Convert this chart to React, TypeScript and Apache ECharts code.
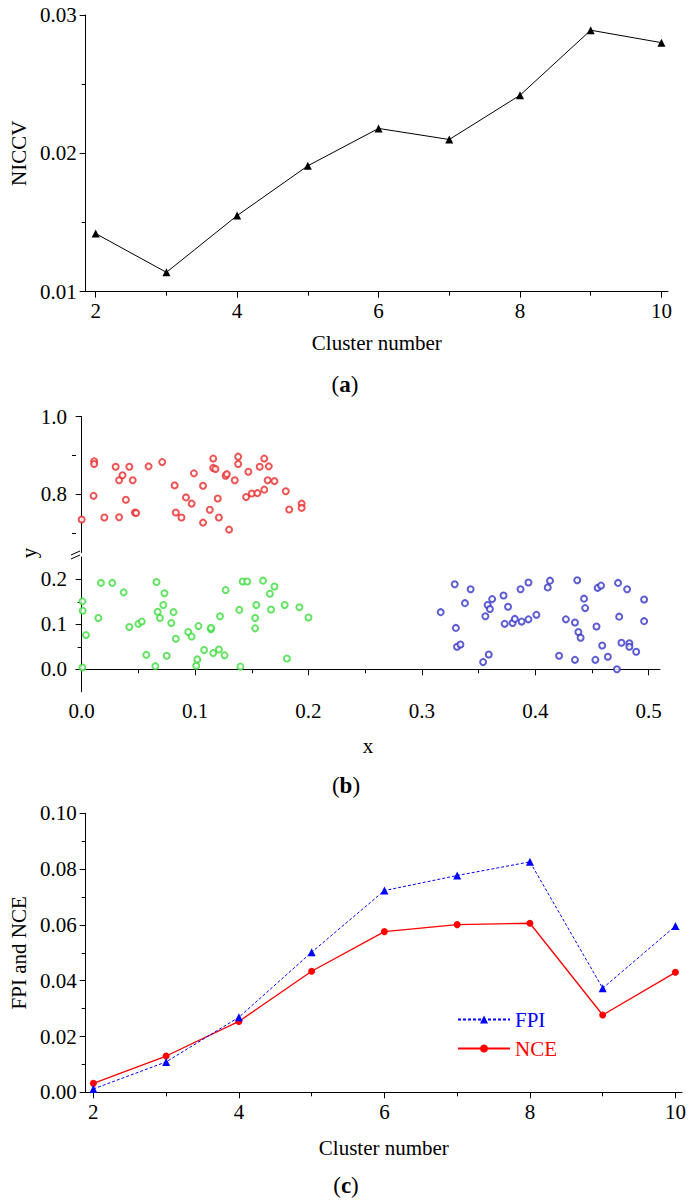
import React, { useEffect, useRef } from "react";
import * as echarts from "echarts";

const FONT = "'Liberation Serif', 'Times New Roman', serif";

// Panel (a)
const clusterNumbers = [2, 3, 4, 5, 6, 7, 8, 9, 10];
const niccv = [0.0142, 0.0114, 0.0155, 0.0191, 0.0218, 0.021, 0.0242, 0.0289, 0.028];
const clusterTickLabels = [2, 4, 6, 8, 10];
const clusterMinorTicks = [3, 5, 7, 9];

// Panel (b)
const redX = [0.0, 0.0105, 0.011, 0.011, 0.02, 0.03, 0.033, 0.033, 0.036, 0.039, 0.042, 0.045, 0.047, 0.048, 0.059, 0.071, 0.082, 0.083, 0.088, 0.092, 0.097, 0.099, 0.107, 0.107, 0.113, 0.116, 0.116, 0.118, 0.12, 0.121, 0.127, 0.128, 0.13, 0.135, 0.138, 0.138, 0.145, 0.147, 0.15, 0.155, 0.157, 0.161, 0.161, 0.164, 0.165, 0.17, 0.18, 0.183, 0.194, 0.194];
const redY = [0.735, 0.796, 0.885, 0.878, 0.74, 0.871, 0.741, 0.836, 0.849, 0.786, 0.871, 0.836, 0.753, 0.752, 0.872, 0.883, 0.823, 0.753, 0.74, 0.792, 0.776, 0.854, 0.727, 0.822, 0.76, 0.892, 0.868, 0.865, 0.789, 0.74, 0.848, 0.852, 0.709, 0.836, 0.897, 0.878, 0.793, 0.858, 0.802, 0.803, 0.871, 0.892, 0.812, 0.836, 0.872, 0.834, 0.808, 0.761, 0.776, 0.765];
const greenX = [0.0006, 0.0006, 0.0009, 0.0038, 0.0147, 0.017, 0.027, 0.037, 0.042, 0.05, 0.053, 0.057, 0.066, 0.065, 0.067, 0.069, 0.072, 0.073, 0.075, 0.079, 0.081, 0.083, 0.094, 0.097, 0.101, 0.102, 0.103, 0.108, 0.114, 0.114, 0.116, 0.121, 0.122, 0.126, 0.127, 0.139, 0.14, 0.142, 0.146, 0.153, 0.153, 0.154, 0.16, 0.166, 0.167, 0.17, 0.179, 0.181, 0.192, 0.2];
const greenY = [0.004, 0.151, 0.13, 0.076, 0.114, 0.192, 0.192, 0.171, 0.094, 0.101, 0.106, 0.032, 0.194, 0.007, 0.128, 0.114, 0.143, 0.169, 0.03, 0.103, 0.127, 0.068, 0.083, 0.073, 0.008, 0.022, 0.096, 0.043, 0.089, 0.092, 0.036, 0.044, 0.118, 0.031, 0.176, 0.132, 0.006, 0.195, 0.195, 0.091, 0.114, 0.143, 0.197, 0.168, 0.133, 0.184, 0.143, 0.024, 0.138, 0.115];
const blueX = [0.3166, 0.329, 0.33, 0.331, 0.334, 0.338, 0.343, 0.354, 0.359, 0.356, 0.358, 0.36, 0.362, 0.372, 0.373, 0.376, 0.38, 0.382, 0.387, 0.388, 0.394, 0.394, 0.401, 0.411, 0.413, 0.421, 0.427, 0.435, 0.435, 0.437, 0.438, 0.44, 0.443, 0.444, 0.453, 0.454, 0.455, 0.458, 0.459, 0.464, 0.472, 0.473, 0.474, 0.476, 0.481, 0.483, 0.483, 0.489, 0.496, 0.496];
const blueY = [0.127, 0.189, 0.092, 0.05, 0.055, 0.147, 0.178, 0.016, 0.033, 0.118, 0.143, 0.134, 0.156, 0.164, 0.101, 0.139, 0.103, 0.112, 0.178, 0.106, 0.193, 0.111, 0.121, 0.182, 0.197, 0.03, 0.111, 0.104, 0.021, 0.198, 0.083, 0.07, 0.157, 0.136, 0.021, 0.095, 0.181, 0.186, 0.053, 0.028, 0.0, 0.192, 0.117, 0.059, 0.178, 0.058, 0.05, 0.039, 0.155, 0.107];
const xTickLabelsB = [0, 0.1, 0.2, 0.3, 0.4, 0.5];
const xMinorTicksB = [0.05, 0.15, 0.25, 0.35, 0.45];
const upperYLabels = [0.8, 1.0];
const upperYMinor = [0.7, 0.9];
const lowerYLabels = [0, 0.1, 0.2];
const lowerYMinor = [0.05, 0.15];

// Panel (c)
const fpi = [0.0012, 0.0109, 0.0269, 0.0502, 0.0723, 0.0777, 0.0826, 0.0373, 0.0596];
const nce = [0.0032, 0.013, 0.0254, 0.0434, 0.0576, 0.0601, 0.0606, 0.0277, 0.043];

const black = { color: "#000", width: 1 };
const tickFont = { fontFamily: FONT, fontSize: 21, color: "#000" };
const nameFont = { fontFamily: FONT, fontSize: 21, color: "#000", verticalAlign: "middle" as const };

function minorAxis(gridIndex: number, min: number, max: number, values: number[], position: string) {
  return {
    type: "value",
    gridIndex,
    position,
    offset: 0,
    min,
    max,
    axisLine: { show: false },
    axisLabel: { show: false },
    splitLine: { show: false },
    axisTick: { show: true, inside: false, length: 4, customValues: values, lineStyle: black },
  };
}

function pairs(xs: number[], ys: number[]) {
  return xs.map((x, i) => [x, ys[i]]);
}

function panelLabel(letter: string, x: number, y: number) {
  return {
    type: "text", x, y,
    style: {
      text: "{n|(}{b|" + letter + "}{n|)}", align: "center", verticalAlign: "middle",
      rich: {
        n: { fontFamily: FONT, fontSize: 23, fill: "#000" },
        b: { fontFamily: FONT, fontSize: 23, fontWeight: "bold", fill: "#000" },
      },
    },
  };
}

export default function App() {
  const ref = useRef<HTMLDivElement>(null);
  useEffect(() => {
    document.body.style.margin = "0";
    const chart = echarts.init(ref.current!, null, { renderer: "svg" });
    const option: any = {
      animation: false,
      backgroundColor: "#fff",
      textStyle: { fontFamily: FONT },
      grid: [
        { left: 81.5, top: 15, width: 586.5, height: 276.7 },
        { left: 76, top: 416.7, width: 584, height: 135.8 },
        { left: 76, top: 556.8, width: 584, height: 135 },
        { left: 71.7, top: 813.3, width: 610.3, height: 279 },
      ],
      xAxis: [
        {
          type: "value", gridIndex: 0, position: "bottom", min: 1.858, max: 10.093,
          axisLine: { show: true, lineStyle: black },
          axisTick: { show: true, length: 6, customValues: clusterTickLabels, lineStyle: black },
          axisLabel: { customValues: clusterTickLabels, margin: 9, ...tickFont },
          splitLine: { show: false },
          name: "Cluster number", nameLocation: "middle", nameGap: 51, nameTextStyle: nameFont,
        },
        minorAxis(0, 1.858, 10.093, clusterMinorTicks, "bottom"),
        { type: "value", gridIndex: 1, min: -0.005, max: 0.51, show: false },
        {
          type: "value", gridIndex: 2, position: "bottom", min: -0.005, max: 0.51,
          axisLine: { show: true, lineStyle: black },
          axisTick: { show: true, length: 6, customValues: xTickLabelsB, lineStyle: black },
          axisLabel: { customValues: xTickLabelsB, margin: 9, formatter: (v: number) => v.toFixed(1), ...tickFont },
          splitLine: { show: false },
          name: "x", nameLocation: "middle", nameGap: 54, nameTextStyle: nameFont,
        },
        minorAxis(2, -0.005, 0.51, xMinorTicksB, "bottom"),
        {
          type: "value", gridIndex: 3, position: "bottom", min: 1.894, max: 10.09,
          axisLine: { show: true, lineStyle: black },
          axisTick: { show: true, length: 6, customValues: clusterTickLabels, lineStyle: black },
          axisLabel: { customValues: clusterTickLabels, margin: 9, ...tickFont },
          splitLine: { show: false },
          name: "Cluster number", nameLocation: "middle", nameGap: 56, nameTextStyle: nameFont,
        },
        minorAxis(3, 1.894, 10.09, clusterMinorTicks, "bottom"),
      ],
      yAxis: [
        {
          type: "value", gridIndex: 0, position: "left", min: 0.01, max: 0.03, interval: 0.01,
          axisLine: { show: true, lineStyle: black },
          axisTick: { show: true, length: 6, lineStyle: black },
          minorTick: { show: true, splitNumber: 2, length: 4, lineStyle: black },
          axisLabel: { margin: 9, formatter: (v: number) => v.toFixed(2), ...tickFont },
          splitLine: { show: false },
          name: "NICCV", nameLocation: "middle", nameGap: 53, nameTextStyle: nameFont,
        },
        {
          type: "value", gridIndex: 1, position: "left", min: 0.65, max: 1.0,
          axisLine: { show: true, lineStyle: black },
          axisTick: { show: true, length: 6, customValues: upperYLabels, lineStyle: black },
          axisLabel: { customValues: upperYLabels, margin: 9, formatter: (v: number) => v.toFixed(1), ...tickFont },
          splitLine: { show: false },
        },
        minorAxis(1, 0.65, 1.0, upperYMinor, "left"),
        {
          type: "value", gridIndex: 2, position: "left", min: -0.05, max: 0.25,
          axisLine: { show: true, lineStyle: black },
          axisTick: { show: true, length: 6, customValues: lowerYLabels, lineStyle: black },
          axisLabel: { customValues: lowerYLabels, margin: 9, formatter: (v: number) => v.toFixed(1), ...tickFont },
          splitLine: { show: false },
        },
        minorAxis(2, -0.05, 0.25, lowerYMinor, "left"),
        {
          type: "value", gridIndex: 3, position: "left", min: 0, max: 0.1, interval: 0.02,
          axisLine: { show: true, lineStyle: black },
          axisTick: { show: true, length: 6, lineStyle: black },
          minorTick: { show: true, splitNumber: 2, length: 4, lineStyle: black },
          axisLabel: { margin: 9, formatter: (v: number) => v.toFixed(2), ...tickFont },
          splitLine: { show: false },
          name: "FPI and NCE", nameLocation: "middle", nameGap: 58.7, nameTextStyle: nameFont,
        },
      ],
      legend: {
        orient: "vertical",
        left: 452,
        top: 1004,
        itemWidth: 52,
        itemHeight: 10,
        itemGap: 8,
        textStyle: { fontFamily: FONT, fontSize: 21, lineHeight: 21 },
        data: [
          { name: "FPI", textStyle: { color: "#0000ff" } },
          { name: "NCE", textStyle: { color: "#ff0000" } },
        ],
      },
      series: [
        {
          type: "line", xAxisIndex: 0, yAxisIndex: 0,
          data: pairs(clusterNumbers, niccv),
          symbol: "triangle", symbolSize: 8,
          lineStyle: { color: "#000", width: 1 },
          itemStyle: { color: "#000" },
        },
        {
          type: "scatter", xAxisIndex: 2, yAxisIndex: 1,
          data: pairs(redX, redY),
          symbol: "emptyCircle", symbolSize: 6,
          itemStyle: { color: "#e82a2a", borderWidth: 1 },
        },
        {
          type: "scatter", xAxisIndex: 3, yAxisIndex: 3,
          data: pairs(greenX, greenY),
          symbol: "emptyCircle", symbolSize: 6,
          itemStyle: { color: "#3ddc3d", borderWidth: 1 },
        },
        {
          type: "scatter", xAxisIndex: 3, yAxisIndex: 3,
          data: pairs(blueX, blueY),
          symbol: "emptyCircle", symbolSize: 6,
          itemStyle: { color: "#3535c8", borderWidth: 1 },
        },
        {
          name: "NCE", type: "line", xAxisIndex: 5, yAxisIndex: 5,
          data: pairs(clusterNumbers, nce),
          symbol: "circle", symbolSize: 7,
          lineStyle: { color: "#ff0000", width: 1.3 },
          itemStyle: { color: "#ff0000" },
        },
        {
          name: "FPI", type: "line", xAxisIndex: 5, yAxisIndex: 5,
          data: pairs(clusterNumbers, fpi),
          symbol: "triangle", symbolSize: 8,
          lineStyle: { color: "#0000ff", width: 1, type: [3, 2] },
          itemStyle: { color: "#0000ff" },
        },
      ],
      graphic: [
        { type: "line", shape: { x1: 71, y1: 555, x2: 80, y2: 551 }, style: { stroke: "#000", lineWidth: 1 } },
        { type: "line", shape: { x1: 71, y1: 559, x2: 80, y2: 555 }, style: { stroke: "#000", lineWidth: 1 } },
        {
          type: "text", x: 28.6, y: 553, rotation: Math.PI / 2,
          style: { text: "y", fontFamily: FONT, fontSize: 21, fill: "#000", align: "center", verticalAlign: "middle" },
        },
        panelLabel("a", 345, 384),
        panelLabel("b", 346, 785),
        panelLabel("c", 346, 1185),
      ],
    };
    chart.setOption(option);
    return () => chart.dispose();
  }, []);
  return <div ref={ref} style={{ position: "absolute", left: 0, top: 0, width: 690, height: 1202 }} />;
}
